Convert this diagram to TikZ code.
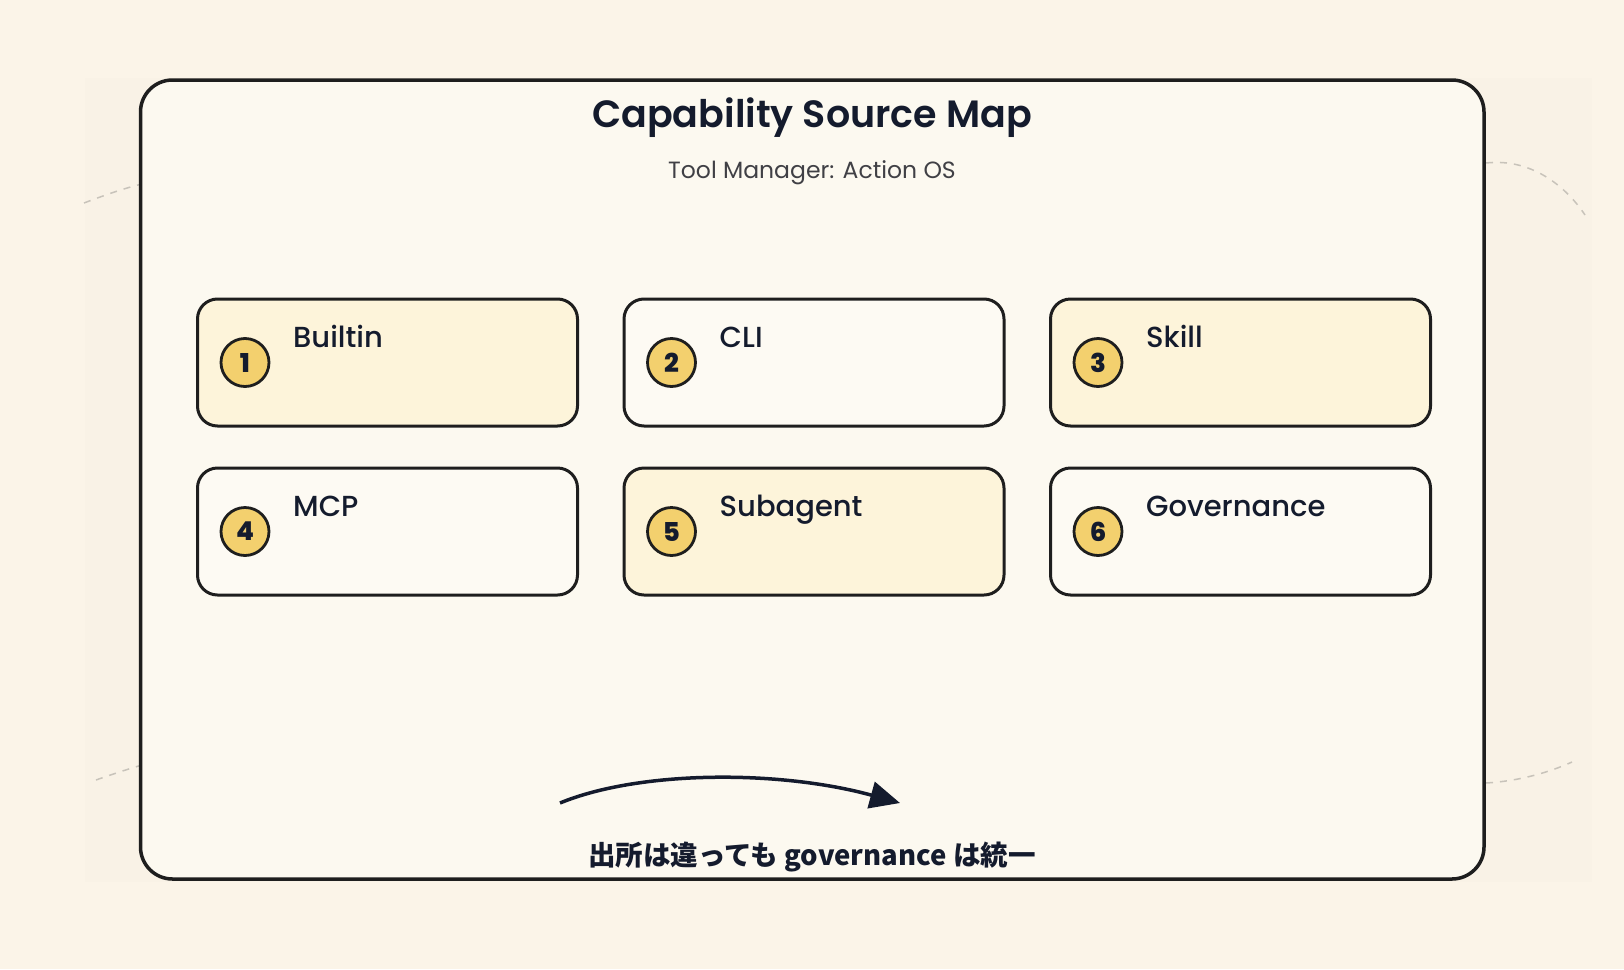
\documentclass[tikz,border=0pt]{standalone}
\usepackage{fontspec}
\setmainfont{Poppins}
\newfontfamily\mediumfont{Poppins Medium}
\newfontfamily\semifont{Poppins SemiBold}
\newfontfamily\heavyfont{Poppins ExtraBold}
\newfontfamily\jpfont{Noto Sans CJK JP}
\usetikzlibrary{positioning,arrows.meta}
\definecolor{pagebg}{HTML}{FBF4E8}
\definecolor{panelbg}{HTML}{F9F2E6}
\definecolor{framebg}{HTML}{FCF9F0}
\definecolor{warmfill}{HTML}{FDF4DA}
\definecolor{plainfill}{HTML}{FDFAF3}
\definecolor{badgefill}{HTML}{F3D06E}
\definecolor{edge}{HTML}{1E1E1E}
\definecolor{ink}{HTML}{141B2D}
\definecolor{subink}{HTML}{404045}
\definecolor{dashgray}{HTML}{C8C3BA}
\begin{document}
\begin{tikzpicture}[x=1pt,y=-1pt,
	every node/.style={inner sep=0pt,text=ink},
	srcbox/.style={draw=edge,line width=3pt,rounded corners=20pt,
		minimum width=380pt,minimum height=127pt},
	warm/.style={srcbox,fill=warmfill},
	plain/.style={srcbox,fill=plainfill},
	badge/.style={circle,draw=edge,fill=badgefill,line width=2.8pt,minimum size=48pt,
		font=\heavyfont\fontsize{26}{26}\selectfont},
	srclabel/.style={anchor=base west,font=\mediumfont\fontsize{29}{29}\selectfont},
	deco/.style={draw=dashgray,line width=1.5pt,dash pattern=on 7pt off 7pt}]
% page and faint panel
\fill[pagebg] (0,0) rectangle (1624,969);
\fill[panelbg] (85,78) rectangle (1592,882);
% dashed decoration behind the frame
\draw[deco] (84,203) .. controls (105,195) and (125,188) .. (142,184);
\draw[deco] (1486,163) .. controls (1530,158) and (1565,185) .. (1585,215);
\draw[deco] (96,780) .. controls (110,775) and (125,770) .. (142,765);
\draw[deco] (1486,783) .. controls (1520,781) and (1550,772) .. (1572,762);
% frame
\draw[edge,fill=framebg,line width=3.5pt,rounded corners=32pt] (140.5,80) rectangle (1484,879);
\node[anchor=base,font=\semifont\fontsize{38}{38}\selectfont] (title) at (812,127) {Capability Source Map};
\node[anchor=base,text=subink,font=\fontsize{23.5}{23.5}\selectfont] (subtitle) at (812,178) {Tool Manager: Action OS};
% sources
\node[warm] (builtin) at (387.5,362.5) {};
\node[plain,right=43.5pt of builtin] (cli) {};
\node[warm,right=43.5pt of cli] (skill) {};
\node[plain,below=39pt of builtin] (mcp) {};
\node[warm,below=39pt of cli] (subagent) {};
\node[plain,below=39pt of skill] (governance) {};
\node[badge] (n1) at ([xshift=49pt]builtin.west) {1};
\node[badge] (n2) at ([xshift=49pt]cli.west) {2};
\node[badge] (n3) at ([xshift=49pt]skill.west) {3};
\node[badge] (n4) at ([xshift=49pt]mcp.west) {4};
\node[badge] (n5) at ([xshift=49pt]subagent.west) {5};
\node[badge] (n6) at ([xshift=49pt]governance.west) {6};
\node[srclabel] (l1) at ([xshift=97pt,yshift=-50pt]builtin.north west) {Builtin};
\node[srclabel] (l2) at ([xshift=97pt,yshift=-50pt]cli.north west) {CLI};
\node[srclabel] (l3) at ([xshift=97pt,yshift=-50pt]skill.north west) {Skill};
\node[srclabel] (l4) at ([xshift=97pt,yshift=-50pt]mcp.north west) {MCP};
\node[srclabel] (l5) at ([xshift=97pt,yshift=-50pt]subagent.north west) {Subagent};
\node[srclabel] (l6) at ([xshift=97pt,yshift=-50pt]governance.north west) {Governance};
% unified governance
\coordinate (from) at (560,803);
\coordinate (to) at (900,803);
\draw[ink,line width=3.5pt,-{Triangle[length=30pt,width=27pt]}] (from) .. controls (640,770) and (780,770) .. (to);
\node[anchor=base,font=\jpfont\bfseries\fontsize{27.5}{27.5}\selectfont] (note) at (812,865) {出所は違っても governance は統一};
\end{tikzpicture}
\end{document}
